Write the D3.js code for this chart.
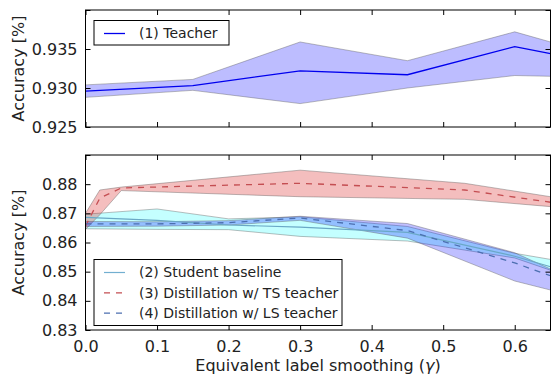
<!DOCTYPE html>
<html>
<head>
<meta charset="utf-8">
<script src="https://cdn.jsdelivr.net/npm/d3@7"></script>
<style>
  body { margin: 0; background: #fff; }
  svg text { font-family: "DejaVu Sans", sans-serif; fill: #222; }
</style>
</head>
<body>
<svg width="560" height="387"></svg>
<script>
// ---- data ----
var teacherX     = [0, 0.15, 0.3, 0.45, 0.6, 0.65];
var teacherMean  = [0.9296, 0.9303, 0.9322, 0.9317, 0.9353, 0.9344];
var teacherHi    = [0.9304, 0.9311, 0.9359, 0.9335, 0.9372, 0.9359];
var teacherLo    = [0.9288, 0.9297, 0.9280, 0.9300, 0.9316, 0.9315];

var studentX     = [0, 0.1, 0.2, 0.3, 0.45, 0.6, 0.65];
var studentMean  = [0.8686, 0.8676, 0.8660, 0.8653, 0.8635, 0.8553, 0.8517];
var studentHi    = [0.8697, 0.8715, 0.8681, 0.8688, 0.8655, 0.8563, 0.8542];
var studentLo    = [0.8647, 0.8645, 0.8644, 0.8621, 0.8605, 0.8547, 0.8505];

var tsX          = [0, 0.02, 0.05, 0.3, 0.53, 0.65];
var tsMean       = [0.8656, 0.8752, 0.8787, 0.8803, 0.8780, 0.8738];
var tsHi         = [0.8700, 0.8780, 0.8790, 0.8848, 0.8803, 0.8757];
var tsLo         = [0.8645, 0.8695, 0.8778, 0.8757, 0.8748, 0.8723];

var lsX          = [0, 0.1, 0.2, 0.3, 0.45, 0.6, 0.65];
var lsMean       = [0.8664, 0.8664, 0.8668, 0.8684, 0.8641, 0.8530, 0.8486];
var lsHi         = [0.8672, 0.8671, 0.8675, 0.8690, 0.8665, 0.8565, 0.8509];
var lsLo         = [0.8655, 0.8656, 0.8660, 0.8676, 0.8615, 0.8468, 0.8437];

var xTicks       = [0, 0.1, 0.2, 0.3, 0.4, 0.5, 0.6];
var topYTicks    = [0.925, 0.930, 0.935, 0.940];
var botYTicks    = [0.83, 0.84, 0.85, 0.86, 0.87, 0.88, 0.89];

var topLegend = ["(1) Teacher"];
var botLegend = ["(2) Student baseline", "(3) Distillation w/ TS teacher", "(4) Distillation w/ LS teacher"];

// ---- layout ----
var svg = d3.select("svg");
var left = 85.5, right = 550.5;
var topPanel = {top: 10, bottom: 127};
var botPanel = {top: 155, bottom: 330};

var x = d3.scaleLinear().domain([0, 0.65]).range([left, right]);
var yTop = d3.scaleLinear().domain([0.925, 0.940]).range([topPanel.bottom, topPanel.top]);
var yBot = d3.scaleLinear().domain([0.83, 0.89]).range([botPanel.bottom, botPanel.top]);

function rows(xs, mean, hi, lo) {
  return xs.map(function(d, i) { return {x: d, m: mean[i], hi: hi[i], lo: lo[i]}; });
}

svg.append("defs").selectAll("clipPath")
  .data([["clipTop", topPanel], ["clipBot", botPanel]])
  .enter().append("clipPath").attr("id", function(d) { return d[0]; })
  .append("rect")
  .attr("x", left).attr("width", right - left)
  .attr("y", function(d) { return d[1].top; })
  .attr("height", function(d) { return d[1].bottom - d[1].top; });

function drawBand(g, y, data, fill) {
  var area = d3.area().x(function(d) { return x(d.x); })
    .y0(function(d) { return y(d.lo); }).y1(function(d) { return y(d.hi); });
  g.append("path").datum(data).attr("d", area)
    .attr("fill", fill).attr("stroke", "rgba(90,90,90,0.4)").attr("stroke-width", 1);
}
function drawLine(g, y, data, color, dash, w) {
  var line = d3.line().x(function(d) { return x(d.x); }).y(function(d) { return y(d.m); });
  g.append("path").datum(data).attr("d", line)
    .attr("fill", "none").attr("stroke", color).attr("stroke-width", w)
    .attr("stroke-dasharray", dash);
}

function drawAxes(y, panel, yTicks, yFmt, showX) {
  var g = svg.append("g");
  g.append("g").attr("transform", "translate(0," + panel.bottom + ")")
    .call(d3.axisBottom(x).tickValues(xTicks).tickSize(-5).tickPadding(showX ? 11 : 0)
      .tickFormat(showX ? d3.format(".1f") : ""));
  g.append("g").attr("transform", "translate(0," + panel.top + ")")
    .call(d3.axisTop(x).tickValues(xTicks).tickSize(-5).tickFormat(""));
  g.append("g").attr("transform", "translate(" + left + ",0)")
    .call(d3.axisLeft(y).tickValues(yTicks).tickSize(-5).tickPadding(8)
      .tickFormat(function(d) { return d === yTicks[yTicks.length - 1] ? "" : yFmt(d); }));
  g.append("g").attr("transform", "translate(" + right + ",0)")
    .call(d3.axisRight(y).tickValues(yTicks).tickSize(-5).tickFormat(""));
  g.selectAll(".domain").remove();
  g.selectAll(".tick line").attr("stroke", "#000");
  g.selectAll(".tick text").style("font-size", "16px").attr("fill", "#222");
  g.append("rect").attr("x", left).attr("y", panel.top)
    .attr("width", right - left).attr("height", panel.bottom - panel.top)
    .attr("fill", "none").attr("stroke", "#000").attr("stroke-width", 1);
  svg.append("text")
    .attr("transform", "translate(18," + ((panel.top + panel.bottom) / 2) + ") rotate(-90)")
    .attr("text-anchor", "middle").attr("dy", "0.35em")
    .style("font-size", "16px").text("Accuracy [%]");
}

function drawLegend(x0, y0, w, h, items) {
  var g = svg.append("g");
  g.append("rect").attr("x", x0).attr("y", y0).attr("width", w).attr("height", h)
    .attr("fill", "#fff").attr("stroke", "#000").attr("stroke-width", 1);
  var it = g.selectAll(".item").data(items).enter().append("g")
    .attr("transform", function(d, i) { return "translate(0," + (y0 + 13 + i * 20.3) + ")"; });
  it.append("line").attr("x1", 104).attr("x2", 125).attr("y1", 0).attr("y2", 0)
    .attr("stroke", function(d) { return d.color; }).attr("stroke-width", function(d) { return d.w; })
    .attr("stroke-dasharray", function(d) { return d.dash; });
  it.append("text").attr("x", 139).attr("dy", "0.35em")
    .style("font-size", "14px").text(function(d) { return d.label; });
}

// top panel
var gTop = svg.append("g").attr("clip-path", "url(#clipTop)");
var teacher = rows(teacherX, teacherMean, teacherHi, teacherLo);
drawBand(gTop, yTop, teacher, "rgba(0,0,255,0.26)");
drawLine(gTop, yTop, teacher, "#0000ee", null, 1.3);
drawAxes(yTop, topPanel, topYTicks, d3.format(".3f"), false);
drawLegend(94, 20.5, 135, 24.5, [{label: topLegend[0], color: "#0000ee", w: 1.3, dash: null}]);

// bottom panel
var gBot = svg.append("g").attr("clip-path", "url(#clipBot)");
var student = rows(studentX, studentMean, studentHi, studentLo);
var ts = rows(tsX, tsMean, tsHi, tsLo);
var ls = rows(lsX, lsMean, lsHi, lsLo);
drawBand(gBot, yBot, student, "rgba(0,255,255,0.23)");
drawBand(gBot, yBot, ts, "rgba(220,40,40,0.3)");
drawBand(gBot, yBot, ls, "rgba(0,0,255,0.25)");
drawLine(gBot, yBot, student, "#6aa8c6", null, 1.2);
drawLine(gBot, yBot, ts, "#c44e52", "6,6", 1.3);
drawLine(gBot, yBot, ls, "#4c6fb0", "6,6", 1.3);
drawAxes(yBot, botPanel, botYTicks, d3.format(".2f"), true);
drawLegend(94, 259.5, 248, 66, [
  {label: botLegend[0], color: "#72afd0", w: 1.2, dash: null},
  {label: botLegend[1], color: "#c44e52", w: 1.3, dash: "6,6"},
  {label: botLegend[2], color: "#4c6fb0", w: 1.3, dash: "6,6"}
]);

// x label
var xl = svg.append("text").attr("x", (left + right) / 2).attr("y", 371)
  .attr("text-anchor", "middle").style("font-size", "16px");
xl.append("tspan").text("Equivalent label smoothing (");
xl.append("tspan").style("font-style", "italic").text("γ");
xl.append("tspan").text(")");
</script>
</body>
</html>
